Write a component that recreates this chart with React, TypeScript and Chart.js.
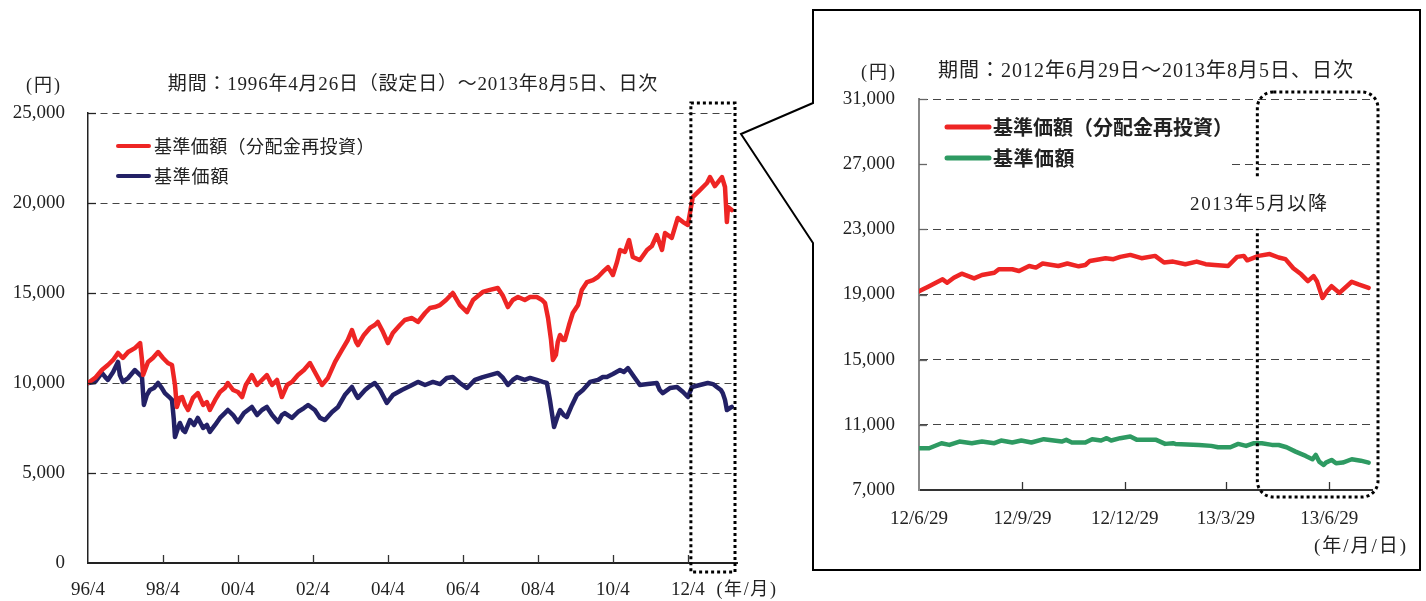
import React, { useEffect, useRef } from 'react';
import { Chart, registerables } from 'chart.js';

Chart.register(...registerables);

const SERIF = '"Liberation Serif", "Noto Sans CJK JP", serif';
const SANS = '"Noto Sans CJK JP", "Noto Sans", sans-serif';
const RED = '#EE2524';
const NAVY = '#232166';
const GREEN = '#2E9A62';
const TEXT = '#222';

// ---------- Left chart (1996/4/26 - 2013/8/5) ----------
const leftTickYears = [1996.25, 1998.25, 2000.25, 2002.25, 2004.25, 2006.25, 2008.25, 2010.25, 2012.25];
const leftTickLabels = ['96/4', '98/4', '00/4', '02/4', '04/4', '06/4', '08/4', '10/4', '12/4'];
const leftZoomStartYear = 2012.33;

const reinvestYears = [
  1996.25, 1996.44, 1996.62, 1996.78, 1996.92, 1997.05, 1997.18, 1997.32, 1997.5, 1997.64,
  1997.69, 1997.72, 1997.85, 1997.98, 1998.12, 1998.25, 1998.38, 1998.49, 1998.57, 1998.62,
  1998.7, 1998.76, 1998.84, 1998.92, 1999.05, 1999.18, 1999.32, 1999.42, 1999.5, 1999.64,
  1999.77, 1999.9, 1999.98, 2000.12, 2000.25, 2000.36, 2000.46, 2000.62, 2000.76, 2000.89,
  2001.02, 2001.16, 2001.29, 2001.42, 2001.56, 2001.69, 2001.85, 2002.01, 2002.17, 2002.3,
  2002.49, 2002.65, 2002.84, 2003.02, 2003.18, 2003.29, 2003.4, 2003.45, 2003.61, 2003.77,
  2003.9, 2003.98, 2004.12, 2004.25, 2004.38, 2004.57, 2004.7, 2004.89, 2005.05, 2005.24,
  2005.37, 2005.5, 2005.64, 2005.8, 2005.98, 2006.17, 2006.36, 2006.52, 2006.65, 2006.78,
  2006.97, 2007.18, 2007.32, 2007.45, 2007.58, 2007.72, 2007.9, 2008.04, 2008.22, 2008.36,
  2008.44, 2008.52, 2008.6, 2008.65, 2008.73, 2008.78, 2008.84, 2008.92, 2008.97, 2009.08,
  2009.18, 2009.32, 2009.42, 2009.56, 2009.72, 2009.85, 2009.98, 2010.12, 2010.25, 2010.36,
  2010.44, 2010.57, 2010.68, 2010.78, 2010.97, 2011.16, 2011.29, 2011.42, 2011.56, 2011.64,
  2011.82, 2011.98, 2012.12, 2012.25, 2012.38, 2012.57, 2012.76, 2012.84, 2012.97, 2013.16,
  2013.24, 2013.29, 2013.32, 2013.42,
];
const reinvestValues = [
  10000, 10280, 10720, 11000, 11280, 11670, 11390, 11720, 11940, 12220,
  11280, 10440, 11170, 11390, 11720, 11390, 11110, 11000, 9890, 8670,
  9170, 9220, 8780, 8500, 9170, 9440, 8780, 8940, 8500, 9060,
  9500, 9720, 10000, 9610, 9500, 9220, 9890, 10440, 9890, 10170,
  10440, 9890, 10170, 9220, 9890, 10060, 10440, 10720, 11110, 10610,
  9890, 10280, 11170, 11830, 12390, 12940, 12280, 12110, 12670, 13060,
  13220, 13390, 12830, 12220, 12780, 13220, 13500, 13610, 13390, 13890,
  14170, 14220, 14330, 14610, 15000, 14330, 13940, 14610, 14830, 15060,
  15170, 15280, 14830, 14220, 14610, 14780, 14610, 14780, 14780, 14610,
  14440, 13610, 12390, 11280, 11560, 12280, 12670, 12390, 12390, 13220,
  13890, 14330, 15170, 15610, 15720, 15890, 16170, 16440, 16000, 16720,
  17390, 17280, 17940, 17000, 16830, 17390, 17610, 18220, 17390, 18330,
  18060, 19170, 18940, 18780, 20330, 20720, 21110, 21440, 20940, 21440,
  20890, 18940, 19780, 19610,
];

const navYears = [
  1996.25, 1996.44, 1996.62, 1996.73, 1996.78, 1996.92, 1997.05, 1997.1, 1997.18, 1997.32,
  1997.5, 1997.64, 1997.69, 1997.74, 1997.82, 1997.9, 1998.01, 1998.12, 1998.22, 1998.3,
  1998.44, 1998.49, 1998.54, 1998.57, 1998.65, 1998.7, 1998.78, 1998.84, 1998.97, 1999.08,
  1999.18, 1999.32, 1999.42, 1999.5, 1999.64, 1999.77, 1999.9, 1999.98, 2000.12, 2000.25,
  2000.41, 2000.62, 2000.76, 2000.89, 2001.02, 2001.16, 2001.32, 2001.42, 2001.5, 2001.69,
  2001.85, 2002.01, 2002.12, 2002.3, 2002.44, 2002.57, 2002.76, 2002.92, 2003.1, 2003.29,
  2003.4, 2003.45, 2003.64, 2003.77, 2003.9, 2004.04, 2004.22, 2004.38, 2004.62, 2004.84,
  2005.05, 2005.24, 2005.45, 2005.64, 2005.82, 2005.98, 2006.17, 2006.36, 2006.57, 2006.78,
  2006.97, 2007.18, 2007.32, 2007.45, 2007.58, 2007.69, 2007.9, 2008.04, 2008.22, 2008.38,
  2008.49, 2008.57, 2008.68, 2008.76, 2008.84, 2008.94, 2009.02, 2009.16, 2009.29, 2009.45,
  2009.64, 2009.85, 2009.98, 2010.09, 2010.25, 2010.44, 2010.54, 2010.65, 2010.78, 2010.97,
  2011.18, 2011.42, 2011.5, 2011.58, 2011.77, 2011.96, 2012.12, 2012.25, 2012.36, 2012.57,
  2012.78, 2012.92, 2013.02, 2013.13, 2013.18, 2013.24, 2013.29, 2013.37, 2013.42,
];
const navValues = [
  10000, 10060, 10560, 10280, 10170, 10610, 11170, 10440, 10060, 10280,
  10720, 10440, 10330, 8780, 9330, 9610, 9720, 10000, 9720, 9440,
  9170, 9060, 7940, 7000, 7500, 7780, 7390, 7280, 7940, 7670,
  8060, 7500, 7670, 7280, 7670, 8060, 8330, 8500, 8220, 7830,
  8330, 8670, 8220, 8500, 8670, 8220, 7830, 8220, 8330, 8060,
  8390, 8610, 8780, 8500, 8060, 7940, 8390, 8670, 9330, 9780,
  9330, 9170, 9610, 9830, 10000, 9610, 8890, 9330, 9610, 9830,
  10060, 9890, 10060, 9940, 10280, 10330, 10000, 9720, 10170, 10330,
  10440, 10560, 10280, 9890, 10170, 10330, 10170, 10280, 10170, 10060,
  10000, 9060, 7560, 8060, 8500, 8220, 8110, 8780, 9330, 9610,
  10060, 10170, 10330, 10330, 10500, 10720, 10610, 10830, 10440, 9890,
  9940, 10000, 9610, 9440, 9720, 9780, 9500, 9220, 9780, 9890,
  10000, 9940, 9780, 9610, 9440, 9060, 8500, 8610, 8670,
];

// ---------- Right chart (2012/6/29 - 2013/8/5, days since 2012/6/29) ----------
const rightTickDays = [0, 92, 183, 273, 365];
const rightTickLabels = ['12/6/29', '12/9/29', '12/12/29', '13/3/29', '13/6/29'];
const zoomStartDay = 301; // 2013/5/1

const rightReinvestDays = [
  0, 9, 21, 25, 31, 38, 49, 56, 67, 71,
  83, 89, 98, 104, 110, 124, 132, 142, 148, 152,
  166, 173, 179, 188, 198, 210, 218, 226, 237, 247,
  255, 263, 275, 283, 289, 292, 302, 312, 320, 326,
  333, 340, 346, 351, 354, 359, 363, 367, 374, 385,
  391, 400,
];
const rightReinvestValues = [
  19200, 19510, 19930, 19720, 20030, 20280, 19990, 20200, 20340, 20550,
  20550, 20440, 20750, 20650, 20900, 20750, 20900, 20730, 20810, 21060,
  21230, 21170, 21310, 21430, 21230, 21370, 20960, 21020, 20860, 21020,
  20860, 20810, 20750, 21310, 21370, 21100, 21370, 21480, 21270, 21170,
  20610, 20240, 19820, 20130, 19820, 18790, 19200, 19510, 19100, 19780,
  19620, 19410,
];
const rightNavDays = [
  0, 9, 20, 27, 36, 47, 56, 67, 73, 83,
  91, 100, 111, 127, 131, 136, 148, 154, 162, 167,
  171, 179, 188, 194, 211, 219, 226, 228, 249, 260,
  266, 277, 284, 291, 298, 305, 314, 320, 327, 335,
  344, 350, 353, 356, 360, 362, 367, 371, 377, 385,
  393, 400,
];
const rightNavValues = [
  9566, 9560, 9872, 9769, 9974, 9872, 9974, 9872, 10036, 9913,
  10036, 9913, 10118, 9974, 10077, 9913, 9913, 10118, 10036, 10180,
  10040, 10180, 10282, 10077, 10077, 9831, 9872, 9830, 9769, 9708,
  9626, 9626, 9831, 9708, 9872, 9872, 9769, 9760, 9626, 9355,
  9092, 8887, 9154, 8743, 8538, 8681, 8846, 8641, 8681, 8887,
  8800, 8681,
];

const leftTitle = '期間：1996年4月26日（設定日）～2013年8月5日、日次';
const rightTitle = '期間：2012年6月29日～2013年8月5日、日次';
const legendReinvest = '基準価額（分配金再投資）';
const legendNav = '基準価額';
const unitYen = '(円)';
const unitYM = '(年/月)';
const unitYMD = '(年/月/日)';
const sinceLabel = '2013年5月以降';

function toPoints(xs: number[], ys: number[]) {
  return xs.map((x, i) => ({ x, y: ys[i] }));
}

function drawText(ctx: CanvasRenderingContext2D, text: string, x: number, y: number, font: string, align: CanvasTextAlign = 'center', spacing = 0, color = TEXT) {
  ctx.save();
  ctx.font = font;
  ctx.fillStyle = color;
  ctx.textAlign = align;
  ctx.textBaseline = 'middle';
  (ctx as any).letterSpacing = spacing + 'px';
  ctx.fillText(text, x, y);
  ctx.restore();
}

function drawInwardTicks(chart: any, skipValue: number, color: string) {
  const { ctx, chartArea: a, scales: { x, y } } = chart;
  ctx.save();
  ctx.setLineDash([]);
  ctx.strokeStyle = color;
  ctx.lineWidth = 1.3;
  y.ticks.forEach((t: any) => {
    if (t.value === skipValue) return;
    const py = Math.round(y.getPixelForValue(t.value)) + 0.5;
    ctx.beginPath();
    ctx.moveTo(a.left, py);
    ctx.lineTo(a.left + 8, py);
    ctx.stroke();
  });
  ctx.strokeStyle = '#333';
  x.ticks.forEach((t: any, i: number) => {
    if (i === 0) return;
    const px = Math.round(x.getPixelForValue(t.value)) + 0.5;
    ctx.beginPath();
    ctx.moveTo(px, a.bottom);
    ctx.lineTo(px, a.bottom - 8);
    ctx.stroke();
  });
  ctx.restore();
}

const leftDecor = {
  id: 'leftDecor',
  afterDraw(chart: any) {
    const { ctx, chartArea: a, scales: { x } } = chart;
    drawInwardTicks(chart, 0, '#222');
    // legend
    ctx.save();
    ctx.lineCap = 'round';
    ctx.lineWidth = 4;
    ctx.strokeStyle = RED;
    ctx.beginPath(); ctx.moveTo(a.left + 30, a.top + 33); ctx.lineTo(a.left + 61, a.top + 33); ctx.stroke();
    ctx.strokeStyle = NAVY;
    ctx.beginPath(); ctx.moveTo(a.left + 30, a.top + 63); ctx.lineTo(a.left + 61, a.top + 63); ctx.stroke();
    ctx.restore();
    drawText(ctx, legendReinvest, a.left + 66, a.top + 33, `18px ${SANS}`, 'left', 0.4);
    drawText(ctx, legendNav, a.left + 66, a.top + 63, `18px ${SANS}`, 'left', 0.8);
    // dotted zoom rectangle
    ctx.save();
    ctx.strokeStyle = '#000';
    ctx.lineWidth = 3;
    ctx.setLineDash([3, 3]);
    const l = x.getPixelForValue(leftZoomStartYear);
    const r = a.right - 2;
    const t = a.top - 10;
    const b = a.bottom + 9;
    ctx.strokeRect(l, t, r - l, b - t);
    ctx.restore();
    // texts
    drawText(ctx, unitYen, 44, a.top - 27, `18px ${SERIF}`, 'center', 2);
    drawText(ctx, leftTitle, 413, a.top - 28, `19px ${SERIF}`, 'center', 0.8);
    drawText(ctx, unitYM, 747, a.bottom + 27, `18px ${SERIF}`, 'center', 1.6);
  },
};

const rightDecor = {
  id: 'rightDecor',
  afterDraw(chart: any) {
    const { ctx, chartArea: a, scales: { x, y } } = chart;
    // legend background hides grid line behind it
    ctx.save();
    ctx.fillStyle = '#fff';
    ctx.fillRect(a.left + 2, a.top + 11, 1229 - a.left - 2, 62);
    ctx.restore();
    drawInwardTicks(chart, 7000, '#666');
    ctx.save();
    ctx.lineCap = 'round';
    ctx.lineWidth = 5;
    ctx.strokeStyle = RED;
    ctx.beginPath(); ctx.moveTo(a.left + 28, a.top + 28); ctx.lineTo(a.left + 70, a.top + 28); ctx.stroke();
    ctx.strokeStyle = GREEN;
    ctx.beginPath(); ctx.moveTo(a.left + 28, a.top + 59); ctx.lineTo(a.left + 70, a.top + 59); ctx.stroke();
    ctx.restore();
    drawText(ctx, legendReinvest, a.left + 74, a.top + 28, `bold 20px ${SANS}`, 'left', 0);
    drawText(ctx, legendNav, a.left + 74, a.top + 59, `bold 20px ${SANS}`, 'left', 0.5);
    // dotted rounded rectangle
    ctx.save();
    ctx.strokeStyle = '#000';
    ctx.lineWidth = 3;
    ctx.setLineDash([3, 3]);
    const l = x.getPixelForValue(zoomStartDay);
    const r = a.right + 6;
    const t = a.top - 7;
    const b = a.bottom + 7;
    ctx.beginPath();
    (ctx as any).roundRect(l, t, r - l, b - t, 16);
    ctx.stroke();
    ctx.restore();
    // annotation label with white background
    const cx = x.getPixelForValue(zoomStartDay) + 2;
    const cy = y.getPixelForValue(24500);
    ctx.save();
    ctx.fillStyle = '#fff';
    ctx.fillRect(cx - 71, cy - 26, 142, 50);
    ctx.restore();
    drawText(ctx, sinceLabel, cx, cy, `19px ${SERIF}`, 'center', 1.7);
    // texts
    drawText(ctx, unitYen, 879, a.top - 26, `18px ${SERIF}`, 'center', 2);
    drawText(ctx, rightTitle, 1146, a.top - 27, `20px ${SERIF}`, 'center', 1.0);
    drawText(ctx, unitYMD, 1361, a.bottom + 57, `19px ${SERIF}`, 'center', 2);
  },
};

const lineStyle = {
  borderWidth: 4.5,
  pointRadius: 0,
  tension: 0,
  borderJoinStyle: 'round' as const,
  borderCapStyle: 'round' as const,
  fill: false,
};

const tickFont = { family: SERIF, size: 19 };

function leftConfig(): any {
  return {
    type: 'line',
    data: {
      datasets: [
        { label: legendReinvest, data: toPoints(reinvestYears, reinvestValues), borderColor: RED, ...lineStyle },
        { label: legendNav, data: toPoints(navYears, navValues), borderColor: NAVY, ...lineStyle },
      ],
    },
    options: {
      responsive: false,
      animation: false,
      events: [],
      layout: { padding: { left: 0, top: 113, right: 1426 - 737, bottom: 0 } },
      plugins: { legend: { display: false }, tooltip: { enabled: false } },
      scales: {
        x: {
          type: 'linear',
          min: 1996.25,
          max: 2013.56,
          afterBuildTicks: (s: any) => { s.ticks = leftTickYears.map((v) => ({ value: v })); },
          afterFit: (s: any) => { s.height = 38; },
          grid: { display: false, drawTicks: false },
          border: { display: true, color: '#222', width: 2 },
          ticks: {
            autoSkip: false, maxRotation: 0, minRotation: 0, padding: 16,
            callback: (_v: any, i: number) => leftTickLabels[i],
            font: tickFont, color: TEXT,
          },
        },
        y: {
          min: 0,
          max: 25000,
          afterFit: (s: any) => { s.width = 88; },
          grid: {
            drawTicks: false,
            lineWidth: 1,
            color: (c: any) => (c.tick && c.tick.value === 0 ? 'rgba(0,0,0,0)' : '#444'),
          },
          border: { display: true, color: '#222', width: 1.5, dash: [7, 5] },
          ticks: {
            stepSize: 5000, padding: 23,
            callback: (v: any) => Number(v).toLocaleString('en-US'),
            font: tickFont, color: TEXT,
          },
        },
      },
    },
    plugins: [leftDecor],
  };
}

function rightConfig(): any {
  return {
    type: 'line',
    data: {
      datasets: [
        { label: legendReinvest, data: toPoints(rightReinvestDays, rightReinvestValues), borderColor: RED, ...lineStyle },
        { label: legendNav, data: toPoints(rightNavDays, rightNavValues), borderColor: GREEN, ...lineStyle },
      ],
    },
    options: {
      responsive: false,
      animation: false,
      events: [],
      layout: { padding: { left: 819, top: 99, right: 1426 - 1372, bottom: 0 } },
      plugins: { legend: { display: false }, tooltip: { enabled: false } },
      scales: {
        x: {
          type: 'linear',
          min: 0,
          max: 403,
          afterBuildTicks: (s: any) => { s.ticks = rightTickDays.map((v) => ({ value: v })); },
          afterFit: (s: any) => { s.height = 601 - 490; },
          grid: { display: false, drawTicks: false },
          border: { display: true, color: '#333', width: 2 },
          ticks: {
            autoSkip: false, maxRotation: 0, minRotation: 0, padding: 18,
            callback: (_v: any, i: number) => rightTickLabels[i],
            font: tickFont, color: TEXT,
          },
        },
        y: {
          min: 7000,
          max: 31000,
          afterFit: (s: any) => { s.width = 100; },
          grid: {
            drawTicks: false,
            lineWidth: 1,
            color: (c: any) => (c.tick && c.tick.value === 7000 ? 'rgba(0,0,0,0)' : '#444'),
          },
          border: { display: true, color: '#888', width: 2, dash: [8, 5] },
          ticks: {
            stepSize: 4000, padding: 24,
            callback: (v: any) => Number(v).toLocaleString('en-US'),
            font: tickFont, color: TEXT,
          },
        },
      },
    },
    plugins: [rightDecor],
  };
}

export default function App() {
  const leftRef = useRef<HTMLCanvasElement>(null);
  const rightRef = useRef<HTMLCanvasElement>(null);

  useEffect(() => {
    const c1 = new Chart(leftRef.current as HTMLCanvasElement, leftConfig());
    const c2 = new Chart(rightRef.current as HTMLCanvasElement, rightConfig());
    return () => {
      c1.destroy();
      c2.destroy();
    };
  }, []);

  return (
    <div style={{ position: 'fixed', left: 0, top: 0, width: 1426, height: 601, background: '#fff', overflow: 'hidden' }}>
      <canvas ref={leftRef} width={1426} height={601} style={{ position: 'absolute', left: 0, top: 0, width: 1426, height: 601 }} />
      <canvas ref={rightRef} width={1426} height={601} style={{ position: 'absolute', left: 0, top: 0, width: 1426, height: 601 }} />
      <svg width={1426} height={601} style={{ position: 'absolute', left: 0, top: 0, pointerEvents: 'none' }}>
        <path d="M813,103 L813,10 L1420,10 L1420,570 L813,570 L813,243 L741,134 Z" fill="none" stroke="#000" strokeWidth={2} strokeLinejoin="miter" />
      </svg>
    </div>
  );
}
